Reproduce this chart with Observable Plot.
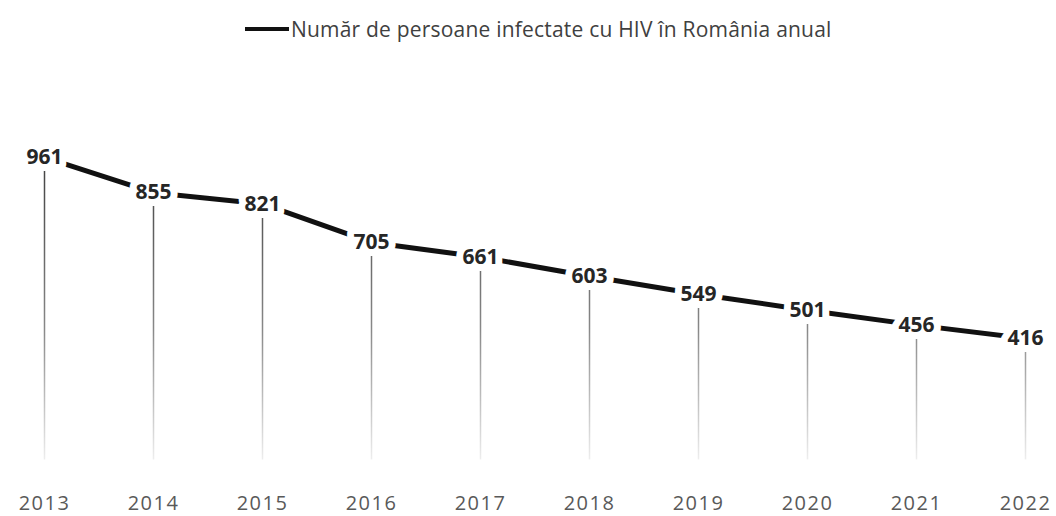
<!DOCTYPE html>
<html>
<head>
<meta charset="utf-8">
<script src="https://cdn.jsdelivr.net/npm/d3@7"></script>
<script src="https://cdn.jsdelivr.net/npm/@observablehq/plot@0.6"></script>
<style>
  html, body { margin: 0; padding: 0; background: #fff; }
  #legend { height: 58px; position: relative; font-family: "Open Sans", sans-serif; }
  #legend .item { position: absolute; left: 245px; top: 15px; display: flex; align-items: center; }
  #legend .swatch { width: 44px; height: 4px; background: #111; margin-right: 2px; }
  #legend .label { font-size: 21px; letter-spacing: 0.2px; color: #404040; white-space: nowrap; }
</style>
</head>
<body>
<div id="legend"><div class="item"><div class="swatch"></div><div class="label">Număr de persoane infectate cu HIV în România anual</div></div></div>
<div id="chart"></div>
<script>
const years = ["2013","2014","2015","2016","2017","2018","2019","2020","2021","2022"];
const values = [961, 855, 821, 705, 661, 603, 549, 501, 456, 416];
const seriesName = "Număr de persoane infectate cu HIV în România anual";
const dropBase = 50;

const data = years.map((y, i) => ({year: y, value: values[i]}));

const gradient = () => {
  const ns = "http://www.w3.org/2000/svg";
  const defs = document.createElementNS(ns, "defs");
  const lg = document.createElementNS(ns, "linearGradient");
  lg.setAttribute("id", "drop");
  lg.setAttribute("gradientUnits", "userSpaceOnUse");
  lg.setAttribute("x1", "0"); lg.setAttribute("x2", "0");
  lg.setAttribute("y1", "110"); lg.setAttribute("y2", "402");
  [["0%", "#444"], ["55%", "#888"], ["100%", "#eee"]].forEach(([o, c]) => {
    const s = document.createElementNS(ns, "stop");
    s.setAttribute("offset", o); s.setAttribute("stop-color", c);
    lg.appendChild(s);
  });
  defs.appendChild(lg);
  return defs;
};

const chart = Plot.plot({
  width: 1056,
  height: 458,
  marginTop: 0, marginBottom: 0, marginLeft: 0, marginRight: 0,
  style: {fontFamily: "'Open Sans', sans-serif", background: "#fff"},
  x: {type: "point", domain: years, range: [42, 1026], padding: 0, axis: null},
  y: {domain: [0, 1000], range: [418, 86], axis: null},
  marks: [
    gradient,
    Plot.ruleX(data, {x: "year", y1: dropBase, y2: "value", stroke: "url(#drop)", strokeWidth: 1.5}),
    Plot.line(data, {x: "year", y: "value", stroke: "#111", strokeWidth: 5}),
    Plot.text(data, {x: "year", y: "value", text: d => String(d.value), fill: "#262626",
      stroke: "white", strokeWidth: 14, fontSize: 21, fontWeight: 700}),
    Plot.text(years, {x: d => d, frameAnchor: "bottom", dy: -13, text: d => d,
      fill: "#595959", fontSize: 20, lineAnchor: "middle"})
  ]
});
chart.querySelectorAll("text").forEach(t => { if (t.textContent.length === 4) t.setAttribute("letter-spacing", "1.5"); });
document.getElementById("chart").appendChild(chart);
</script>
</body>
</html>
